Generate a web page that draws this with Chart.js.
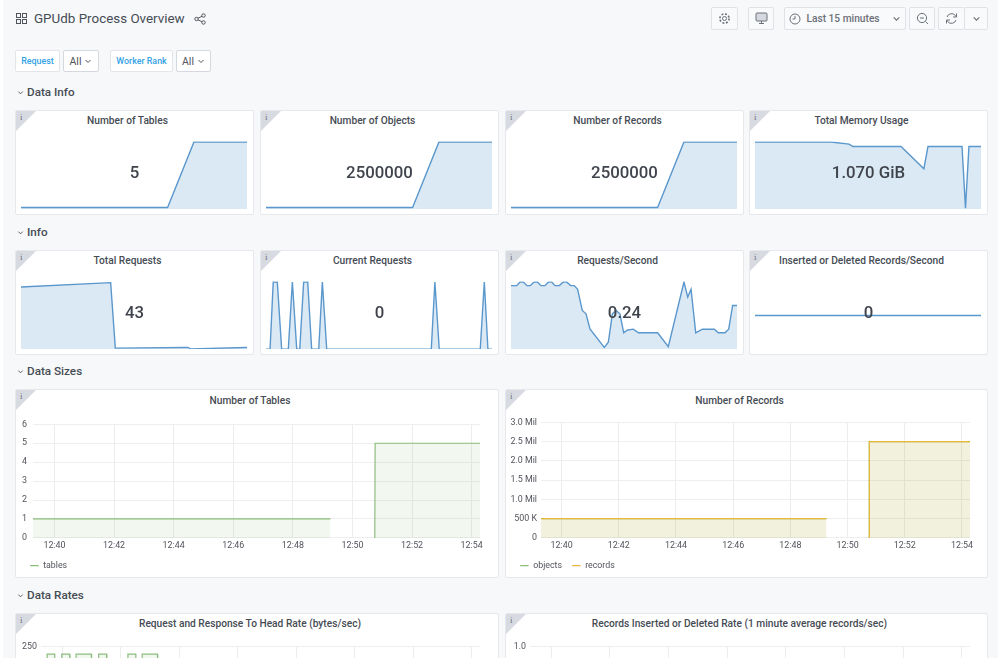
<!DOCTYPE html>
<html lang="en">
<head>
<meta charset="UTF-8" />
<title>GPUdb Process Overview</title>
<script src="https://cdn.jsdelivr.net/npm/chart.js"></script>
<style>
  html, body { margin: 0; height: 658px; overflow: hidden; background: #fff; }
  body { font-family: Roboto, sans-serif; color: #464c54; }
  #page { position: absolute; left: 3px; top: 0; width: 995px; height: 658px; background: #f7f8fa; }
  #root { position: absolute; left: 0; top: 0; width: 1000px; height: 658px; }
  #root > * { position: absolute; box-sizing: border-box; }
  .title { left: 34px; top: 10px; font-size: 13.4px; line-height: 18px; color: #464c54; }
  .btn { height: 23px; top: 7px; background: #f9fafb; border: 1px solid #dfe2e7; border-radius: 2px; display: flex; align-items: center; justify-content: center; font-size: 10.2px; font-weight: 500; color: #6c7078; }
  .btn svg { display: block; }
  .var { top: 50px; height: 22px; background: #fff; border: 1px solid #e3e5ea; border-radius: 2px; display: flex; align-items: center; justify-content: center; font-size: 8.9px; font-weight: 500; color: #33a2e5; }
  .pick { color: #52545c; font-size: 10.5px; font-weight: 400; gap: 3px; border-color: #d5d8de; }
  .section { left: 17px; font-size: 11.7px; font-weight: 500; line-height: 16px; color: #464c54; display: flex; align-items: center; gap: 3px; }
  .panel { background: #fff; border: 1px solid #e6e8ec; border-radius: 2px; overflow: hidden; }
  .panel::before { content: ""; position: absolute; left: 0; top: 0; width: 20px; height: 20px; background: #d8dae1; clip-path: polygon(0 0, 100% 0, 0 100%); }
  .panel::after { content: "i"; position: absolute; left: 4px; top: 1px; font: 9px "Liberation Serif", serif; color: #6c7078; }
  .panel h3 { margin: 0; position: absolute; left: 0; right: 14px; top: 3px; text-align: center; font-size: 10.2px; line-height: 13px; font-weight: 500; color: #464c54; }
  .panel.wide h3 { top: 4px; }
  .panel canvas { position: absolute; }
  .big { position: absolute; left: 0; right: 0; top: 51px; text-align: center; font-size: 16.8px; line-height: 20px; font-weight: 500; color: #3f444c; }
</style>
</head>
<body>
<svg width="0" height="0" style="position:absolute">
  <symbol id="chev" viewBox="0 0 8 8"><polyline points="1.5,3 4,5.5 6.5,3" fill="none" stroke="currentColor" stroke-width="1"/></symbol>
</svg>
<div id="page"></div>
<div id="root">
  <svg style="left:16px;top:13px" width="11" height="11" viewBox="0 0 11 11" fill="none" stroke="#52545c"><rect x=".5" y=".5" width="4" height="4"/><rect x="6.5" y=".5" width="4" height="4"/><rect x=".5" y="6.5" width="4" height="4"/><rect x="6.5" y="6.5" width="4" height="4"/></svg>
  <div class="title">GPUdb Process Overview</div>
  <svg style="left:194px;top:13px" width="12" height="12" viewBox="0 0 12 12" fill="none" stroke="#52545c"><circle cx="2.5" cy="6" r="1.7"/><circle cx="9.5" cy="2.5" r="1.7"/><circle cx="9.5" cy="9.5" r="1.7"/><path d="M4 5.2L8 3.3M4 6.8L8 8.7"/></svg>

  <div class="btn" style="left:711px;width:27px"><svg width="13" height="13" viewBox="0 0 13 13" fill="none" stroke="#6c7078"><circle cx="6.5" cy="6.5" r="2"/><circle cx="6.5" cy="6.5" r="4.6" stroke-width="1.6" stroke-dasharray="2 1.6"/></svg></div>
  <div class="btn" style="left:748px;width:26px"><svg width="13" height="13" viewBox="0 0 13 13" fill="none" stroke="#6c7078"><rect x="1" y="1" width="11" height="8" rx="1" fill="#d5d8de"/><path d="M4 11.5h5M6.5 9v2.5"/></svg></div>
  <div class="btn" style="left:784px;width:122px;gap:5px"><svg width="12" height="12" viewBox="0 0 12 12" fill="none" stroke="#6c7078"><circle cx="6" cy="6" r="5"/><path d="M6 3v3H3.5"/></svg>Last 15 minutes<svg width="9" height="9" style="margin-left:7px;color:#6c7078"><use href="#chev"/></svg></div>
  <div class="btn" style="left:909px;width:26px"><svg width="13" height="13" viewBox="0 0 13 13" fill="none" stroke="#6c7078"><circle cx="6" cy="6" r="4.6"/><path d="M9.5 9.5L12 12M4 6h4"/></svg></div>
  <div class="btn" style="left:938px;width:27px"><svg width="13" height="13" viewBox="0 0 13 13" fill="none" stroke="#6c7078"><path d="M2 5a4.8 4.8 0 0 1 8.3-1.6L11.5 5M11 8a4.8 4.8 0 0 1-8.3 1.6L1.5 8"/><path d="M11.5 1.5V5H8M1.5 11.5V8H5"/></svg></div>
  <div class="btn" style="left:964px;width:24px;color:#6c7078"><svg width="9" height="9"><use href="#chev"/></svg></div>

  <div class="var" style="left:15px;width:45px">Request</div>
  <div class="var pick" style="left:63px;width:36px">All<svg width="8" height="8"><use href="#chev"/></svg></div>
  <div class="var" style="left:110px;width:63px">Worker Rank</div>
  <div class="var pick" style="left:176px;width:35px">All<svg width="8" height="8"><use href="#chev"/></svg></div>

  <div class="section" style="top:84px"><svg width="7" height="7"><use href="#chev"/></svg>Data Info</div>
  <div class="section" style="top:224px"><svg width="7" height="7"><use href="#chev"/></svg>Info</div>
  <div class="section" style="top:363px"><svg width="7" height="7"><use href="#chev"/></svg>Data Sizes</div>
  <div class="section" style="top:587px"><svg width="7" height="7"><use href="#chev"/></svg>Data Rates</div>

  <div class="panel" style="left:15px;top:110px;width:239px;height:105px"><h3>Number of Tables</h3><canvas id="sparkTables" style="left:5px;top:30px" width="226" height="68"></canvas><div class="big">5</div></div>
  <div class="panel" style="left:260px;top:110px;width:239px;height:105px"><h3>Number of Objects</h3><canvas id="sparkObjects" style="left:5px;top:30px" width="226" height="68"></canvas><div class="big">2500000</div></div>
  <div class="panel" style="left:505px;top:110px;width:239px;height:105px"><h3>Number of Records</h3><canvas id="sparkRecords" style="left:5px;top:30px" width="226" height="68"></canvas><div class="big">2500000</div></div>
  <div class="panel" style="left:749px;top:110px;width:239px;height:105px"><h3>Total Memory Usage</h3><canvas id="sparkMemory" style="left:5px;top:30px" width="226" height="68"></canvas><div class="big">1.070 GiB</div></div>

  <div class="panel" style="left:15px;top:250px;width:239px;height:105px"><h3>Total Requests</h3><canvas id="sparkTotal" style="left:5px;top:30px" width="226" height="68"></canvas><div class="big">43</div></div>
  <div class="panel" style="left:260px;top:250px;width:239px;height:105px"><h3>Current Requests</h3><canvas id="sparkCurrent" style="left:5px;top:30px" width="226" height="68"></canvas><div class="big">0</div></div>
  <div class="panel" style="left:505px;top:250px;width:239px;height:105px"><h3>Requests/Second</h3><canvas id="sparkRate" style="left:5px;top:30px" width="226" height="68"></canvas><div class="big">0.24</div></div>
  <div class="panel" style="left:749px;top:250px;width:239px;height:105px"><h3>Inserted or Deleted Records/Second</h3><canvas id="sparkInserted" style="left:5px;top:30px" width="226" height="68"></canvas><div class="big">0</div></div>

  <div class="panel wide" style="left:15px;top:389px;width:484px;height:189px"><h3>Number of Tables</h3><canvas id="tablesChart" style="left:-1px;top:23px" width="484" height="167"></canvas></div>
  <div class="panel wide" style="left:505px;top:389px;width:483px;height:189px"><h3>Number of Records</h3><canvas id="recordsChart" style="left:-1px;top:23px" width="483" height="167"></canvas></div>

  <div class="panel" style="left:15px;top:613px;width:484px;height:189px"><h3>Request and Response To Head Rate (bytes/sec)</h3><canvas id="headRateChart" style="left:-1px;top:23px" width="484" height="167"></canvas></div>
  <div class="panel" style="left:505px;top:613px;width:483px;height:189px"><h3>Records Inserted or Deleted Rate (1 minute average records/sec)</h3><canvas id="insertRateChart" style="left:-1px;top:23px" width="483" height="167"></canvas></div>
</div>

<script>
// time axis is minutes past 12:00, the window is the last 15 minutes
const windowStart = 39.28;
const windowEnd = 54.28;
const timeTicks = [40, 42, 44, 46, 48, 50, 52, 54];

const stepMinutes = [39.28, 49.01, 50.76, 54.28];
const tableSpark = [1, 1, 5, 5];
const objectSpark = [500000, 500000, 2500000, 2500000];
const recordSpark = [500000, 500000, 2500000, 2500000];

const memoryMinutes = [39.28, 44.32, 45.52, 45.78, 48.97, 50.49, 50.76, 53.02, 53.25, 53.48, 54.28];
const memoryGiB = [1.085, 1.085, 1.078, 1.07, 1.07, 0.996, 1.07, 1.07, 0.865, 1.07, 1.07];

const totalMinutes = [39.28, 45.23, 45.54, 50.36, 50.52, 54.28];
const totalRequests = [225, 238, 41, 43, 39, 43];

const currentMinutes = [39.28, 39.55, 39.76, 40.03, 40.32, 40.76, 41.03, 41.32, 41.52, 41.78, 42.05, 42.31, 42.78, 43.02, 43.31, 50.25, 50.49, 50.78, 53.50, 53.77, 54.01, 54.28];
const currentRequests = [0, 0, 1, 1, 0, 0, 1, 0, 0, 1, 1, 0, 0, 1, 0, 0, 1, 0, 0, 1, 0, 0];

const rateMinutes = [39.28, 39.66, 39.88, 40.10, 40.34, 40.56, 40.81, 41.03, 41.27, 41.54, 41.76, 41.98, 42.20, 42.49, 42.75, 42.97, 43.24, 43.48, 43.70, 44.01, 44.26, 44.52, 45.47, 45.74, 46.01, 46.25, 46.51, 46.76, 47.02, 47.40, 47.73, 49.01, 49.72, 50.76, 51.01, 51.23, 51.54, 51.98, 52.78, 53.04, 53.48, 53.73, 53.99, 54.28];
const requestRate = [0.311, 0.311, 0.324, 0.324, 0.311, 0.311, 0.324, 0.324, 0.311, 0.311, 0.324, 0.324, 0.311, 0.311, 0.324, 0.324, 0.311, 0.311, 0.298, 0.222, 0.21, 0.156, 0.09, 0.108, 0.21, 0.222, 0.21, 0.142, 0.152, 0.155, 0.142, 0.142, 0.092, 0.324, 0.27, 0.298, 0.142, 0.155, 0.155, 0.142, 0.142, 0.155, 0.24, 0.24];

const insertedMinutes = [39.28, 54.28];
const insertedRecords = [0, 0];

const sizeMinutes = [39.28, 49.26, 50, 50.75, 50.76, 54.28];
const tableCounts = [1, 1, null, 0, 5, 5];
const objectCounts = [500000, 500000, null, 0, 2500000, 2500000];
const recordCounts = [500000, 500000, null, 0, 2500000, 2500000];

const headMinutes = [39.28, 39.48, 39.49, 39.75, 39.76, 39.98, 39.99, 40.26, 40.27, 40.47, 40.48, 41.0, 41.01, 41.24, 41.25, 41.52, 41.53, 42.24, 42.25, 42.52, 42.53, 42.73, 42.74, 43.26, 43.27, 54.28];
const headBytes = [0, 0, 233, 233, 0, 0, 233, 233, 0, 0, 233, 233, 0, 0, 233, 233, 0, 0, 233, 233, 0, 0, 233, 233, 0, 0];

const insertRateMinutes = [39.28, 54.28];
const insertRates = [0, 0];

const points = (xs, ys) => xs.map((x, i) => ({ x: x, y: ys[i] }));

Chart.defaults.animation = false;
Chart.defaults.font.family = 'Roboto, sans-serif';

function sparkline(id, xs, ys, min, max, noFill) {
  new Chart(document.getElementById(id), {
    type: 'line',
    data: {
      datasets: [{
        data: points(xs, ys),
        borderColor: '#5a97cc',
        borderWidth: 1.4,
        backgroundColor: 'rgba(31, 120, 193, 0.16)',
        fill: noFill ? false : 'start',
        pointRadius: 0,
        clip: 0.5
      }]
    },
    options: {
      responsive: false,
      layout: { padding: { top: 1 } },
      plugins: { legend: { display: false }, tooltip: { enabled: false } },
      scales: {
        x: { type: 'linear', display: false, min: windowStart, max: windowEnd },
        y: { display: false, min: min, max: max }
      }
    }
  });
}

sparkline('sparkTables', stepMinutes, tableSpark, 0.91, 5);
sparkline('sparkObjects', stepMinutes, objectSpark, 454000, 2500000);
sparkline('sparkRecords', stepMinutes, recordSpark, 454000, 2500000);
sparkline('sparkMemory', memoryMinutes, memoryGiB, 0.862, 1.085);
sparkline('sparkTotal', totalMinutes, totalRequests, 38.5, 240);
sparkline('sparkCurrent', currentMinutes, currentRequests, 0.004, 1);
sparkline('sparkRate', rateMinutes, requestRate, 0.084, 0.324);
sparkline('sparkInserted', insertedMinutes, insertedRecords, -1, 1, true);

function timeChart(id, datasets, cfg) {
  new Chart(document.getElementById(id), {
    type: 'line',
    data: {
      datasets: datasets.map(d => ({
        label: d.label,
        data: d.data,
        order: d.order,
        borderColor: d.color,
        backgroundColor: d.fill,
        borderWidth: 1.2,
        fill: 'start',
        pointRadius: 0,
        spanGaps: false
      }))
    },
    options: {
      responsive: false,
      layout: { padding: { left: 5, right: cfg.right, top: 2 } },
      plugins: {
        tooltip: { enabled: false },
        legend: {
          display: true,
          position: 'bottom',
          align: 'start',
          labels: {
            usePointStyle: true,
            pointStyle: 'line',
            color: '#52545c',
            font: { size: 8.8 },
            padding: 10,
            boxWidth: 9,
            boxHeight: 6,
            sort: (a, b) => a.datasetIndex - b.datasetIndex
          }
        }
      },
      scales: {
        x: {
          type: 'linear',
          min: windowStart,
          max: windowEnd,
          afterFit: scale => { scale.height = 13.3; },
          afterBuildTicks: axis => { axis.ticks = timeTicks.map(v => ({ value: v })); },
          border: { display: false },
          grid: { color: '#ededed', drawTicks: false },
          ticks: {
            color: '#52545c', font: { size: 8.9 }, padding: 3, maxRotation: 0, autoSkip: false,
            callback: v => '12:' + v
          }
        },
        y: {
          min: cfg.min,
          max: cfg.max,
          afterFit: scale => { scale.width = cfg.yWidth; },
          border: { display: false },
          grid: { color: '#eeeeee', drawTicks: false },
          ticks: {
            color: '#52545c', font: { size: 8.9 }, padding: cfg.tickPad, stepSize: cfg.step, autoSkip: false,
            callback: cfg.format
          }
        }
      }
    }
  });
}

const green = { color: '#8cbd7d', fill: 'rgba(126, 178, 109, 0.1)' };
const yellow = { color: '#eab839', fill: 'rgba(234, 184, 57, 0.1)' };

timeChart('tablesChart', [
  { label: 'tables', data: points(sizeMinutes, tableCounts), ...green }
], { min: 0, max: 6, step: 1, right: 19, yWidth: 13, tickPad: 6, format: v => v });

timeChart('recordsChart', [
  { label: 'objects', data: points(sizeMinutes, objectCounts), order: 1, ...green },
  { label: 'records', data: points(sizeMinutes, recordCounts), order: 0, ...yellow }
], { min: 0, max: 3000000, step: 500000, right: 18, yWidth: 31, tickPad: 4,
     format: v => v === 0 ? '0' : v < 1000000 ? (v / 1000) + ' K' : (v / 1000000).toFixed(1) + ' Mil' });

timeChart('headRateChart', [
  { label: 'head', data: points(headMinutes, headBytes), ...green }
], { min: 0, max: 250, step: 50, right: 19, yWidth: 21, tickPad: 4, format: v => v });

timeChart('insertRateChart', [
  { label: 'rate', data: points(insertRateMinutes, insertRates), ...green }
], { min: 0, max: 1, step: 0.2, right: 18, yWidth: 20, tickPad: 4, format: v => v.toFixed(1) });
</script>
</body>
</html>
